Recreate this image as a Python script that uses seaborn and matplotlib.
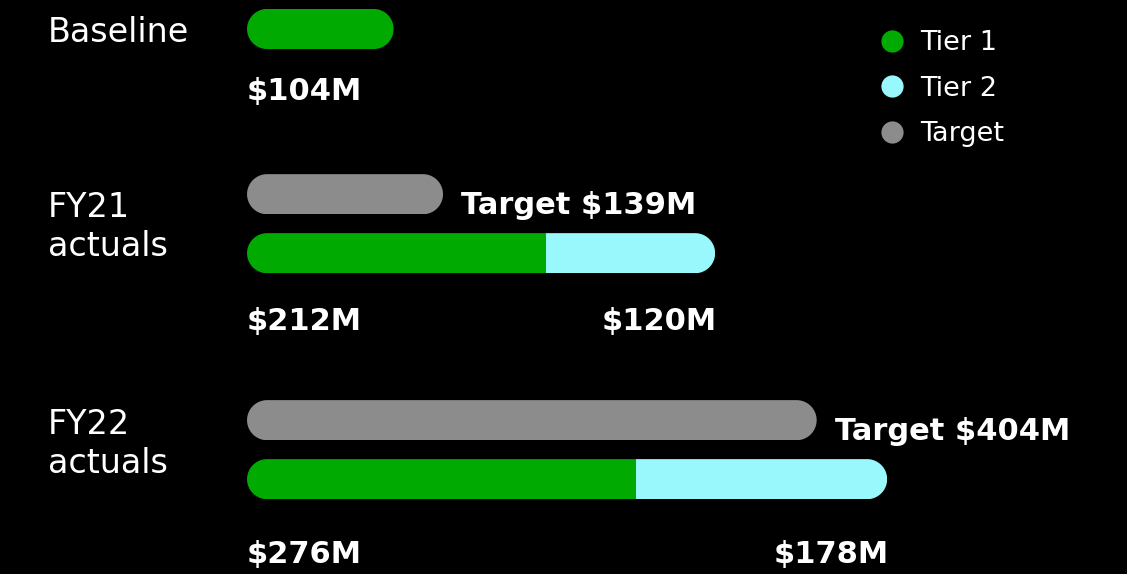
import numpy as np
import pandas as pd
import seaborn as sns
import matplotlib.pyplot as plt
from matplotlib.path import Path
from matplotlib.patches import PathPatch
from matplotlib.lines import Line2D

# values in $M
baseline_label = "Baseline"
baseline_value = 104
group_labels = ["FY21\nactuals", "FY22\nactuals"]
target_values = [139, 404]
tier1_values = [212, 276]
tier2_values = [120, 178]
series_names = ["Tier 1", "Tier 2", "Target"]
series_colors = ["#00AA00", "#99F8FB", "#8C8C8C"]

sns.set_theme(style="dark", rc={"axes.facecolor": "black", "figure.facecolor": "black"})
plt.rcParams["font.family"] = ["DejaVu Sans"]

# layout (row positions on the y axis, 1 unit = 59 px)
group_start = 2.8
group_step = 3.83
bar_w = 0.68
label_first = [0.39, 0.24]     # baseline of first label line, from target row
label_step = 0.65
value_off = [1.30, 1.42]       # baseline of value labels, from actual row

target_pos = [group_start + i * group_step for i in range(len(group_labels))]
actual_pos = [p + 1 for p in target_pos]

rows = [(0, baseline_value, "Tier 1")]
for tp, ap, t, v1, v2 in zip(target_pos, actual_pos, target_values, tier1_values, tier2_values):
    rows.append((tp, t, "Target"))
    rows.append((ap, v1 + v2, "Tier 2"))  # stacked: tier 2 drawn as total, tier 1 on top
    rows.append((ap, v1, "Tier 1"))
df = pd.DataFrame(rows, columns=["pos", "value", "series"])
palette = dict(zip(series_names, series_colors))

fig = plt.figure(figsize=(11.27, 5.74), dpi=100)
ax = fig.add_axes([0, 0, 1, 1])

sns.barplot(
    data=df, x="value", y="pos", hue="series",
    hue_order=["Target", "Tier 2", "Tier 1"],
    palette=palette, saturation=1, orient="h", native_scale=True, dodge=False,
    width=bar_w, errorbar=None, linewidth=0, legend=False, ax=ax
)

ax.set_xlim(-175.2, 624.1)
ax.set_ylim(9.237, -0.4915)
ax.set_axis_off()

px_x = ax.transData.transform((1, 0))[0] - ax.transData.transform((0, 0))[0]
px_y = abs(ax.transData.transform((0, 1))[1] - ax.transData.transform((0, 0))[1])


def pill(x0, x1, y0, h):
    ry = h / 2
    rx = ry * px_y / px_x
    yc = y0 + ry
    t = np.linspace(-np.pi / 2, np.pi / 2, 40)
    right = np.column_stack([x1 - rx + rx * np.cos(t), yc + ry * np.sin(t)])
    left = np.column_stack([x0 + rx - rx * np.cos(t), yc - ry * np.sin(t)])
    verts = np.vstack([right, left, right[:1]])
    return PathPatch(Path(verts, closed=True), transform=ax.transData)


# group bars by row; turn the tier 2 total into the segment after tier 1
by_row = {}
for p in ax.patches:
    by_row.setdefault(round(p.get_y(), 4), []).append(p)
for key, bars in by_row.items():
    bars.sort(key=lambda b: b.get_width())
    lo = min(b.get_x() for b in bars)
    hi = max(b.get_x() + b.get_width() for b in bars)
    for inner, outer in zip(bars[:-1], bars[1:]):
        end = inner.get_x() + inner.get_width()
        outer.set_width(outer.get_x() + outer.get_width() - end)
        outer.set_x(end)
    # rounded ends: clip every bar to a pill spanning its whole row
    for b in bars:
        b.set_clip_path(pill(lo, hi, b.get_y(), b.get_height()))

label_kw = dict(color="white", fontsize=24, va="baseline", ha="left")
value_kw = dict(color="white", fontsize=22, fontweight="bold", va="baseline")
ytr = ax.get_yaxis_transform()

ax.text(48 / 1127, 0.22, baseline_label, transform=ytr, **label_kw)
ax.text(0, 1.2, f"${baseline_value}M", ha="left", **value_kw)
for i, (lab, tp, ap) in enumerate(zip(group_labels, target_pos, actual_pos)):
    for j, line in enumerate(lab.split("\n")):
        ax.text(48 / 1127, tp + label_first[i] + j * label_step, line, transform=ytr, **label_kw)
    t, v1, v2 = target_values[i], tier1_values[i], tier2_values[i]
    ax.text(t + 13, tp + 0.34, f"Target ${t}M", ha="left", **value_kw)
    ax.text(0, ap + value_off[i], f"${v1}M", ha="left", **value_kw)
    ax.text(v1 + v2 + 1.5, ap + value_off[i], f"${v2}M", ha="right", **value_kw)

handles = [Line2D([], [], marker="o", linestyle="none", markersize=16,
                  markerfacecolor=c, markeredgewidth=0) for c in series_colors]
leg = ax.legend(handles, series_names, loc="upper left", bbox_to_anchor=(878 / 1127, 1 - 30 / 574),
                frameon=False, fontsize=19.5, labelcolor="white", handlelength=1.0,
                handletextpad=0.57, labelspacing=0.72, borderpad=0, borderaxespad=0)

fig.savefig("out.png", dpi=100, facecolor="black")
